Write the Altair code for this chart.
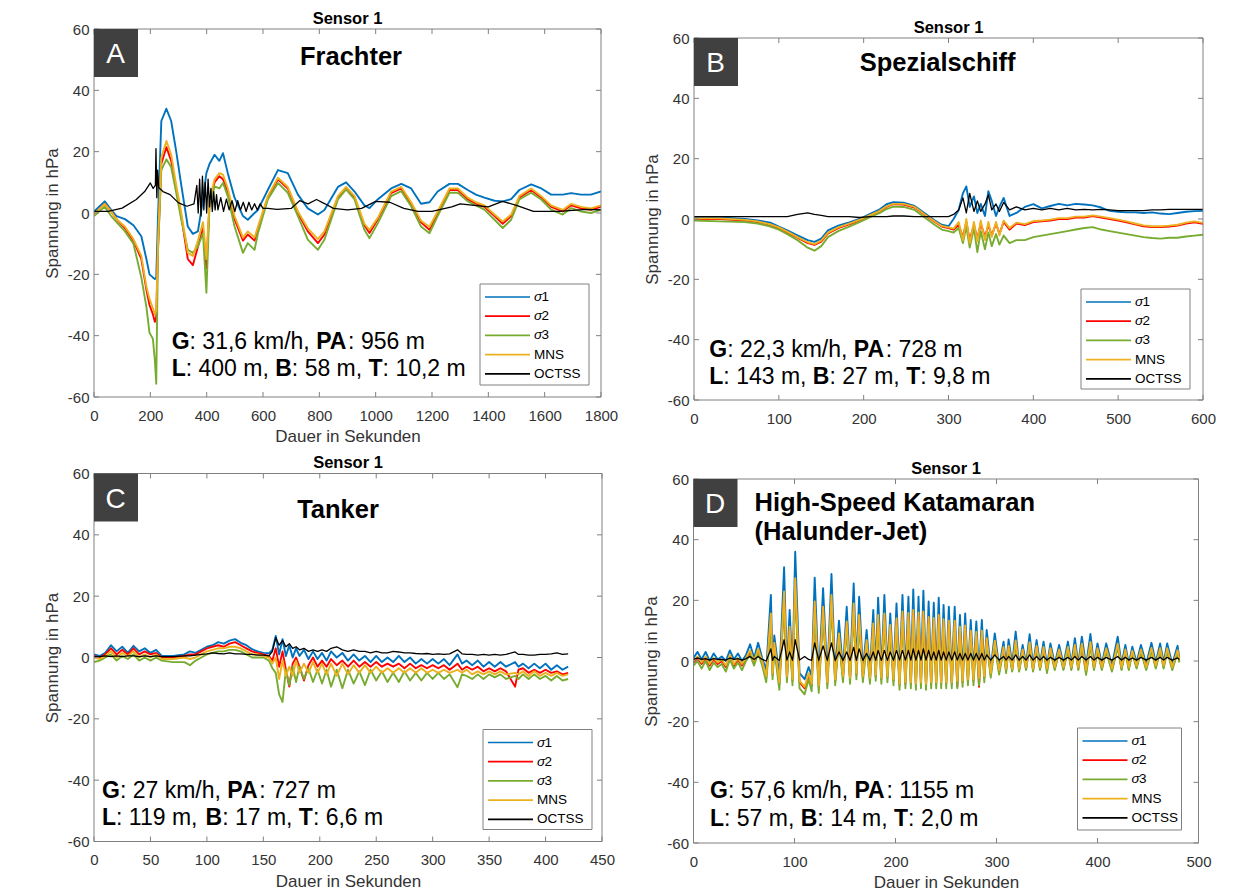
import altair as alt
import pandas as pd

FONT = "Liberation Sans"
FRAME = "#808080"
TXT = "#333333"

SERIES = ["σ1", "σ2", "σ3", "MNS", "OCTSS"]
COLORS = ["#0072BD", "#FF0000", "#77AC30", "#EDB120", "#000000"]
Y_TICKS = [-60, -40, -20, 0, 20, 40, 60]

# ---------------- Panel A (Frachter) ----------------
A_X_TICKS = [0, 200, 400, 600, 800, 1000, 1200, 1400, 1600, 1800]
A_T = [0, 38, 61, 80, 110, 140, 168, 186, 197, 209,
       216, 221, 227, 239, 257, 274, 292, 310, 333, 351,
       369, 387, 399, 410, 428, 445, 458, 475, 499, 529,
       546, 570, 582, 617, 653, 688, 724, 759, 795, 818,
       866, 895, 925, 960, 978, 1008, 1055, 1091, 1126, 1161,
       1191, 1220, 1262, 1292, 1327, 1356, 1386, 1422, 1451, 1481,
       1510, 1552, 1588, 1623, 1664, 1694, 1729, 1764, 1800]
A_S1 = [0.5, 3.8, 1, -1, -2, -4, -7.6, -15, -20, -21,
        -21.5, -21.3, -2, 30, 34, 30, 20, 9, -4.4, -6.8,
        -6, 4.4, 13, 16, 19, 17, 19.5, 13, 5, -1,
        -2.2, 0, 1, 7.5, 14, 13, 6, 1.5, -0.5, 1,
        8.5, 10, 7, 2.5, 1.6, 4.5, 8, 9.5, 8, 3,
        3.5, 7, 9.5, 9.5, 7.5, 6, 5, 4, 3.8, 4.5,
        7.5, 9.3, 8, 6, 6, 6.5, 6, 6, 7]
A_S2 = [-0.5, 3, 0.5, -2, -5, -9, -15, -25, -30, -33,
        -35.5, -34, -12, 16, 21.5, 17, 8, -1, -15, -17,
        -11, -5, -18, 3, 10, 12, 11, 7, -2, -9,
        -7, -9, -5, 5, 11, 8, 0, -6, -9.8, -7,
        5, 8, 5, -4, -6.5, -2, 6.5, 8, 3, -3,
        -5.5, 0, 7.5, 7.5, 4.5, 3, 2, -1, -3.5, -1,
        5, 7.5, 5, 2, 0.5, 2.5, 1.5, 1, 2]
A_S3 = [-1, 2, -1, -3, -6, -10, -21, -30.6, -39, -41,
        -48, -55.7, -13, 14, 17.5, 15, 6.6, -2.2, -12, -13,
        -10.9, -6.6, -26, 2, 8.7, 8, 9.8, 5.5, -4.4, -13,
        -9.8, -12, -6.6, 4.4, 9.8, 6.6, -1, -8.7, -12, -8.7,
        4.4, 7.7, 4.4, -5.5, -8.2, -3.3, 5.5, 7.1, 2.2, -4.4,
        -6.6, -1, 6.6, 6.6, 3.8, 2.5, 1.1, -2.2, -4.9, -2.2,
        4.4, 6.6, 4.4, 1.1, -0.5, 1.6, 0.5, 0, 1.1]
A_MNS = [-0.5, 3, 0.5, -2, -4.5, -8.5, -14, -24, -28, -31,
         -33, -32, -10, 18, 23.5, 19, 9, 0, -13, -14,
         -9, -3, -15, 4, 11, 13, 12.5, 8, -1, -8,
         -6, -8, -4.5, 5.5, 11.5, 8.5, 0.5, -5, -8.5, -6,
         5.5, 8.5, 5.5, -3.5, -5.5, -1.5, 7, 8.5, 3.5, -2.5,
         -4.5, 0.5, 8, 8, 5, 3.5, 2.5, -0.5, -2.8, -0.5,
         5.5, 8, 5.5, 2.5, 1, 3, 2, 1.5, 2.5]
A_OCT_T = [0, 50, 100, 150, 180, 200, 210, 218, 220, 223,
           226, 230, 245, 270, 300, 330, 355, 365, 370, 375,
           380, 385, 390, 395, 400, 405, 410, 415, 420, 425,
           430, 435, 440, 450, 460, 470, 480, 490, 500, 510,
           520, 530, 540, 550, 560, 570, 580, 590, 600, 617,
           650, 700, 730, 760, 790, 820, 850, 900, 950, 1000,
           1050, 1100, 1150, 1200, 1270, 1300, 1350, 1400, 1450, 1500,
           1560, 1650, 1750, 1800]
A_OCT = [0.5, 0.5, 1.6, 4.4, 7, 9.8, 8, 9, 21, 5,
         14, 8.2, 7, 6, 3.3, 2.2, 3, 9, 0, 11,
         -1, 12, 1, 10, 0, 11, 2, 8, 0.5, 7,
         1, 6, 1, 5, 0.5, 4.5, 1, 4, 0.5, 4,
         1, 3.5, 0.5, 3.5, 1, 3, 1, 3, 1.5, 1.5,
         1.2, 1.5, 4, 3, 4.4, 3, 1.5, 1, 1.5, 3.8,
         3.5, 1.5, 0.5, 0.5, 2, 3, 2.5, 2, 3.8, 2.5,
         0.5, 0.5, 1.2, 1]

# ---------------- Panel B (Spezialschiff) ----------------
B_X_TICKS = [0, 100, 200, 300, 400, 500, 600]
B_T = [0, 30, 60, 75, 90, 100, 110, 122, 134, 142,
       150, 158, 170, 183, 195, 207, 219, 227, 235, 247,
       260, 272, 284, 292, 300, 306, 312, 317, 321, 325,
       330, 334, 338, 343, 347, 351, 356, 360, 365, 372,
       380, 390, 400, 410, 420, 430, 440, 450, 460, 470,
       480, 490, 500, 510, 520, 530, 540, 550, 560, 570,
       580, 590, 600]
B_S1 = [0.5, 0.5, 0, -0.5, -1.2, -2.5, -3.8, -5.4, -7, -7.6,
        -6.5, -3.8, -2.2, -1.1, 0, 1.6, 3.2, 4.9, 5.6, 5.4,
        4.3, 1.9, -0.5, -1.9, -2.4, 0, 3, 8.5, 10.8, 4,
        7.5, 2, 5, 1, 9.2, 6, 1, 4, 7, 1,
        2, 4, 4.9, 3.5, 4.3, 5, 4.5, 5, 4.8, 4.5,
        3.8, 2.7, 2.4, 2.2, 2.2, 2, 2.2, 1.8, 1.6, 2,
        2.4, 2.6, 2.7]
B_S2 = [0, 0, -0.5, -1, -2, -3, -4.5, -6.2, -8, -8.6,
        -7.5, -4.8, -3, -1.8, -0.5, 1, 2.5, 4, 4.9, 4.8,
        3.8, 1.3, -1, -2.5, -3, -3.5, -2, -6, -1, -7,
        -2, -6.5, -1.5, -6, -2, -5.5, -1.5, -5, -1, -3.5,
        -1.5, -2, -1, -0.8, -0.5, 0, 0, 0.5, 0.5, 1,
        0.5, 0, -0.5, -1.1, -1.8, -2.4, -2.7, -2.7, -2.5, -2.2,
        -1.5, -1.1, -1.6]
B_S3 = [-0.5, -0.8, -1, -1.5, -2.5, -3.5, -5, -7, -9.5, -10.5,
        -9, -6, -4, -2.5, -1, 0.5, 2, 3.3, 4.1, 4,
        3, 0.5, -2, -3.5, -4, -4.5, -3, -8, -2.5, -9.5,
        -3, -11, -4, -10, -4.5, -9, -5, -8.5, -5.5, -8,
        -7, -7, -6, -5.5, -5, -4.5, -4, -3.5, -3, -2.7,
        -3.5, -4, -4.5, -5, -5.5, -6, -6.3, -6.5, -6.2, -6.2,
        -5.8, -5.5, -5.2]
B_MNS = [0.2, 0.2, -0.3, -0.8, -1.8, -2.8, -4.2, -6, -7.7, -8.3,
         -7.2, -4.5, -2.8, -1.5, -0.3, 1.2, 2.7, 4.2, 5, 5,
         4, 1.5, -0.8, -2.3, -2.8, -3.2, -1, -7, 0, -8,
         -1, -7.5, -0.5, -7, -1, -6, -1, -5.5, -0.5, -3,
         -1.2, -1.7, -0.7, -0.5, -0.2, 0.3, 0.3, 0.8, 0.8, 1.2,
         0.8, 0.3, -0.2, -0.8, -1.5, -2.1, -2.4, -2.4, -2.2, -1.9,
         -1.2, -0.8, -1.3]
B_OCT = [0.8, 0.8, 0.8, 0.8, 0.8, 0.8, 0.8, 1.5, 2, 1.5,
         1.2, 0.8, 0.8, 0.8, 0.5, 0.8, 0.8, 0.8, 1, 1,
         0.8, 0.8, 0.8, 0.8, 0.8, 1.5, 3, 7, 2, 8.5,
         2.5, 6, 2.5, 5, 8, 3, 5, 2.5, 5.5, 3,
         4, 3, 3.5, 3, 3.5, 3, 3.5, 3, 3.2, 3,
         3.2, 3, 2.8, 2.8, 2.8, 2.8, 3, 3, 3.2, 3.2,
         3.2, 3.2, 3.2]

# ---------------- Panel C (Tanker) ----------------
C_X_TICKS = [0, 50, 100, 150, 200, 250, 300, 350, 400, 450]
C_T = [0, 5, 10, 15, 20, 25, 30, 35, 40, 45,
       50, 55, 60, 70, 80, 85, 90, 95, 100, 105,
       110, 115, 120, 125, 130, 135, 140, 145, 150, 155,
       158, 161, 164, 167, 170, 173, 176, 179, 182, 186,
       190, 194, 198, 202, 206, 210, 215, 220, 225, 230,
       235, 240, 245, 250, 255, 260, 265, 270, 275, 280,
       285, 290, 295, 300, 305, 310, 315, 322, 326, 330,
       335, 340, 345, 350, 355, 360, 365, 373, 376, 380,
       385, 390, 395, 400, 405, 410, 415, 420]
C_S1 = [1, 0.5, 1.5, 4, 2, 3.5, 1.5, 3.8, 2, 3,
        1.5, 2.5, 0.5, 0.5, 1, 2, 1.5, 2.5, 3.5, 4,
        5, 4.5, 5.5, 6, 4.8, 4, 2.7, 2, 1.5, 1.4,
        2.5, 7, 1, 6, 0.5, 4, 0, 3, 0.5, 2.5,
        -0.5, 2, -0.5, 1.5, -1, 2, 0, 1.5, -1, 1,
        -1, 0.5, -1.5, 0.5, -1.5, 0, -1.5, 0.5, -1.5, 0,
        -2, -0.5, -2, -0.5, -2, -0.5, -2.5, 1, -2, -1,
        -2.5, -1, -3, -1.5, -3, -1.5, -3, -1.5, -3, -2,
        -3.5, -2, -3.5, -2, -4, -2.5, -4, -3]
C_S2 = [0.5, 0, 1, 3, 1, 2.5, 1, 3, 1, 2,
        1, 1.5, 0, 0, 0.5, 1, 1, 2, 3, 3.5,
        4, 3.5, 4.5, 5, 4, 3, 2, 1.5, 1, 0.5,
        -1, 3, -3, 2, -4, -9.5, -2, 0, -3, -7.5,
        -2.5, 0, -3, -1, -3, -0.5, -2.5, -1, -3, -1,
        -3, -1.5, -3, -1.5, -3, -2, -3, -2, -3.5, -2,
        -3.5, -2.5, -3.5, -2.5, -3.5, -2.5, -4, -2, -4, -3,
        -4, -3, -4.5, -3.5, -4.5, -3.5, -4.5, -9.5, -4, -3.5,
        -5, -4, -5, -4, -5, -4.5, -5.5, -5]
C_S3 = [-1.5, -1, 0, 1, -1, 0.5, -0.5, 1, -1, 0,
        -1, 0, -1, -1.5, -1.5, -2.5, -1, 0, 1, 1.5,
        2, 2, 2.5, 2.5, 2, 1, 0, 0, 0, -1,
        -3.5, -5, -12, -14.5, -4, -9, -3, -8, -3, -7,
        -3.5, -8, -4, -8.5, -4, -9.5, -4, -10, -4, -8.5,
        -4.5, -9, -4, -7.5, -4.5, -8, -5, -8, -4.5, -7.5,
        -5, -7.5, -5, -7, -5, -7, -5.5, -9.7, -5.5, -6,
        -7, -5.5, -7, -5.5, -6.5, -5.5, -7, -6, -7, -5.5,
        -7, -5.5, -7, -6, -7.5, -6, -7.5, -7]
C_MNS = [0, -0.5, 0.5, 2, 0, 1.5, 0.5, 2, 0, 1,
         0, 1, -0.5, -0.5, 0, -0.5, 0, 1, 2, 2.5,
         3, 3, 3.5, 3.5, 3, 2, 1, 1, 0.5, 0,
         -2, 0, -7, -1, -6, -3, -6, -1, -5, -2,
         -5, -1.5, -5, -2, -5.5, -2, -6, -2, -5.5, -2.5,
         -5, -2.5, -5, -3, -5, -3.5, -5, -3.5, -5, -3.5,
         -5, -3.5, -5, -4, -5, -4, -5, -4, -5, -4,
         -5.5, -4.5, -5.5, -4.5, -5.5, -4.5, -5.5, -5, -5.5, -4.5,
         -6, -4.5, -6, -5, -6, -5, -6, -5.5]
C_OCT = [0.3, 0.3, 0.5, 0.3, 0.5, 0.3, 0.5, 0.5, 0.3, 0.5,
         0.3, 0.5, 0.3, 0.3, 0.5, 0.5, 0.8, 1, 1.2, 1.5,
         1.3, 1.2, 1.5, 1.2, 1.2, 1, 1, 0.8, 0.8, 0.5,
         2, 6.5, 4, 5.5, 3.5, 4.5, 3, 3.5, 2.5, 3,
         2, 2.5, 2, 2.5, 2, 3, 3.5, 2.5, 2, 2.5,
         2, 2, 1.5, 2, 1.5, 1.5, 2, 1.8, 1.5, 1.5,
         1.3, 1.2, 1.3, 1, 1.2, 1, 1.2, 2.5, 1.2, 1,
         1, 0.8, 1, 0.8, 1, 0.8, 1, 1.8, 1, 1,
         0.8, 0.8, 1, 1, 1.2, 1.5, 1, 1.2]

# ---------------- Panel D (High-Speed Katamaran) ----------------
D_X_TICKS = [0, 100, 200, 300, 400, 500]
D_PRE_T = [0, 4, 8, 12, 16, 20, 24, 28, 32, 36, 40, 44, 48, 52, 56, 60, 64, 68, 72]
D_PRE_S1 = [1, 3, 0.5, 3, 0, 2.5, 0.5, 1.5, 0, 3.5, 0.5, 2.5, 0, 2, 5.5, 1, 6, 1, -3]
D_PRE_S2 = [-0.5, 1, -1, 1, -1.5, 0.5, -1, 0, -2, 1.5, -1.5, 0.5, -1.5, 0.5, 3, -0.5, 3.5, -0.5, -5.5]
D_PRE_S3 = [-1.5, 0, -2.5, 0, -3, -0.5, -2, -1, -3.5, 0.5, -2.5, -0.5, -3, 0, 2, -1.5, 2.5, -1.5, -7]
D_PRE_MNS = [0, 1.5, -0.5, 1.5, -1, 1, -0.5, 0.5, -1.5, 2, -1, 1, -1, 1, 3.5, 0, 4, 0, -5]
D_PRE_OCT = [0.5, 1, 0.5, 0.8, 0.3, 0.8, 0.5, 0.5, 0.3, 1, 0.5, 0.8, 0.3, 0.8, 1.5, 0.5, 1.5, 0.5, 0]

D_PK_T = [76.6, 80, 89.7, 95.2, 100.7, 120, 128.3, 136.6, 144, 151.7,
          158.6, 164, 171.4, 178, 182.8, 189, 194.8, 201, 206.9, 212.8,
          217.6, 222.8, 227.6, 232.8, 237.9, 242.8, 247.6, 252.8, 258.6, 263.8,
          269, 274.5, 280, 285.5, 290.3, 298.3, 307, 312, 319, 325.9,
          332.8, 339.7, 346.6, 353.4, 362, 370.7, 377.6, 384.5, 393, 400,
          408.6, 420, 427.6, 434.5, 443, 453.4, 462, 469, 479.3]
D_PK_S1 = [21.8, 8.4, 30.9, 16.8, 36, 27.5, 24, 28.7, 13.3, 17.9,
           25.6, 21.2, 10.2, 16.8, 20.9, 21.8, 15.7, 19, 21.8, 21.2,
           23.6, 21.2, 23.2, 19.6, 19.2, 20.9, 18.5, 17.9, 17.9, 15.2,
           15.7, 13.5, 13, 13.5, 10.2, 9.1, 6.4, 7.1, 9.7, 5.3,
           8.8, 6.9, 6.4, 5.8, 5.3, 6.4, 7.5, 8, 8.9, 5.8,
           5.8, 8, 5.3, 4.7, 5.3, 6, 5.8, 5.8, 5]
D_PK_S2 = [14, 5, 21, 10, 25, 18, 16.5, 20, 8, 12,
           17.5, 14, 6, 11, 14, 14.5, 11, 13, 15, 14.5,
           15.5, 14.5, 15, 13.5, 13, 14, 12.5, 12, 12, 10.5,
           10.5, 9, 8.5, 9, 7, 6, 4, 4.5, 6, 3.5,
           5.5, 4.5, 4, 3.8, 3.5, 4, 4.8, 5, 5.6, 3.8,
           3.8, 5, 3.5, 3, 3.5, 3.8, 3.8, 3.8, 3.2]
D_PK_S3 = [12, 4, 19, 8.5, 23, 16, 15, 18, 7, 10.5,
           16, 12.5, 5, 10, 12.5, 13, 9.5, 11.5, 13.5, 13,
           14, 13, 13.5, 12, 11.5, 12.5, 11, 11, 11, 9,
           9.5, 8, 7.5, 8, 6, 5, 3.5, 4, 5.5, 3,
           5, 4, 3.5, 3.2, 3, 3.5, 4.2, 4.5, 5, 3.2,
           3.2, 4.5, 3, 2.5, 3, 3.3, 3.2, 3.2, 2.8]
D_PK_MNS = [15.7, 6, 22.9, 11.3, 27.3, 19.6, 17.9, 21.8, 9.1, 13,
            19, 15.2, 6.9, 12.4, 15.2, 15.7, 11.9, 14.1, 16.3, 15.8,
            16.8, 16, 16.3, 14.5, 14.2, 15.2, 13.8, 13.3, 13.3, 11.3,
            11.7, 10, 9.6, 10, 7.5, 6.7, 4.6, 5, 6.8, 3.8,
            6.2, 5, 4.6, 4.2, 3.8, 4.6, 5.3, 5.7, 6.3, 4.2,
            4.2, 5.7, 3.8, 3.4, 3.8, 4.3, 4.2, 4.2, 3.6]
D_PK_OCT = [4, 1.5, 7, 3, 7, 6, 5, 6, 3, 3,
            4.5, 4, 2.5, 3, 3.5, 3.5, 3, 3.5, 3.5, 3.5,
            4, 3.5, 4, 3.5, 3, 3.5, 3, 3, 3, 2.5,
            2.5, 2.5, 2.5, 2.5, 2, 2, 1.5, 1.5, 2, 1.5,
            2, 1.5, 1.5, 1.2, 1.2, 1.2, 1.5, 1.5, 1.5, 1.2,
            1.2, 1.5, 1.2, 1, 1.2, 1.2, 1.2, 1.2, 1]

D_TR_T = [78.3, 85, 92.5, 98, 105, 110, 114, 117, 124, 132.5,
          140.3, 148, 155, 161.3, 167.7, 174.7, 180.4, 186, 192, 198,
          204, 209.8, 215.2, 220.2, 225.2, 230.2, 235.3, 240.3, 245.2, 250.2,
          255.7, 261.2, 266.4, 271.7, 277.2, 282.7, 287.9, 294.3, 302.6, 309.5,
          315.5, 322.4, 329.3, 336.2, 343.1, 350, 357.7, 366.3, 374.1, 381,
          388.7, 396.5, 404.3, 414.3, 423.8, 431, 438.7, 448.2, 457.7, 465.5,
          474, 481]
D_TR_S1 = [-2, -5, -3, -4, -4, -6, -2, -5, -6, -5,
           -4, -3, -3.5, -2, -3, -3.5, -2.5, -3.5, -3, -4,
           -5, -4.5, -4.5, -5, -4.5, -5, -4.5, -4.5, -4.5, -4.5,
           -4.5, -4.5, -4, -4, -3.5, -3.5, -3, -2.5, -2, -1.5,
           -1, -1.5, -1, -1.5, -1, -1.5, -1, -1, -1, -1,
           -1.5, -1, -1, -1.5, -1, -1, -0.5, -1, -0.5, -0.5,
           -1, 1]
D_TR_S2 = [-4.5, -7.5, -5.5, -6.5, -7, -9, -4.5, -8, -8.5, -7.5,
           -6.5, -5.5, -6, -4.5, -5.5, -6, -5, -6, -5.5, -6.5,
           -8, -7.5, -7.5, -8, -7.5, -8, -7.5, -7.5, -7.5, -7.5,
           -7.5, -8.5, -7, -6.5, -6.5, -8.5, -5.5, -4.5, -3.5, -3,
           -3, -3, -2.5, -3, -2.5, -3, -2.5, -2.5, -2.5, -2.5,
           -3.5, -2.5, -2.5, -3, -2.5, -2.5, -2, -2.5, -2, -2,
           -2.5, 0]
D_TR_S3 = [-6, -9.5, -7, -8, -9, -11, -6, -10, -10.5, -9,
           -8, -7, -7.5, -6, -7, -7.5, -6.5, -7.5, -7, -8,
           -9.5, -9, -9, -9.5, -9, -9.5, -9, -9, -9, -9,
           -9, -9, -8.5, -8, -8, -8, -7, -5.5, -4.5, -4,
           -3.5, -3.5, -3, -3.5, -3, -4, -3, -3, -3, -3,
           -4.6, -3, -3, -3.5, -3, -3, -2.5, -3, -2.5, -2.5,
           -3, -0.5]
D_TR_MNS = [-4, -7, -5, -6, -6.5, -8.5, -4, -7.5, -8, -7,
            -6, -5, -5.5, -4, -5, -5.5, -4.5, -5.5, -5, -6,
            -7.5, -7, -7, -7.5, -7, -7.5, -7, -7, -7, -7,
            -7, -6.5, -6.5, -6, -6, -5.5, -5, -4, -3, -2.5,
            -2.5, -2.5, -2, -2.5, -2, -2.5, -2, -2, -2, -2,
            -3, -2, -2, -2.5, -2, -2, -1.5, -2, -1.5, -1.5,
            -2, 0.5]
D_TR_OCT = [0.2, 0.2, 0.3, 0.2, 0.3, 1.5, 0.5, 0.2, 0.2, 0.2,
            0.2, 0.2, 0.2, 0.2, 0.2, 0.2, 0.2, 0.2, 0.2, 0.2,
            0.3, 0.3, 0.3, 0.3, 0.3, 0.3, 0.3, 0.3, 0.3, 0.3,
            0.3, 0.3, 0.3, 0.3, 0.3, 0.3, 0.3, 0.3, 0.3, 0.3,
            0.3, 0.3, 0.3, 0.3, 0.3, 0.3, 0.3, 0.3, 0.3, 0.3,
            0.3, 0.3, 0.3, 0.3, 0.3, 0.3, 0.3, 0.3, 0.3, 0.3,
            0.3, 0.5]

# ---------------- Text content ----------------
A_INFO = [[("G", 1), (": 31,6 km/h, ", 0), ("PA", 1), (": 956 m", 0)],
          [("L", 1), (": 400 m, ", 0), ("B", 1), (": 58 m, ", 0), ("T", 1), (": 10,2 m", 0)]]
B_INFO = [[("G", 1), (": 22,3 km/h, ", 0), ("PA", 1), (": 728 m", 0)],
          [("L", 1), (": 143 m, ", 0), ("B", 1), (": 27 m, ", 0), ("T", 1), (": 9,8 m", 0)]]
C_INFO = [[("G", 1), (": 27 km/h, ", 0), ("PA", 1), (": 727 m", 0)],
          [("L", 1), (": 119 m, ", 0), ("B", 1), (": 17 m, ", 0), ("T", 1), (": 6,6 m", 0)]]
D_INFO = [[("G", 1), (": 57,6 km/h, ", 0), ("PA", 1), (": 1155 m", 0)],
          [("L", 1), (": 57 m, ", 0), ("B", 1), (": 14 m, ", 0), ("T", 1), (": 2,0 m", 0)]]

REG_W = {' ': 278, ':': 278, ',': 278, '.': 278, '/': 278, 'k': 500, 'm': 833, 'h': 556}
BOLD_W = {'G': 778, 'P': 667, 'A': 722, 'L': 611, 'B': 722, 'T': 611}


def text_w(s, bold, size):
    table = BOLD_W if bold else REG_W
    return sum(table.get(c, 556) for c in s) * size / 1000.0


def merge(*pairs):
    ts, vs = [], []
    for t, v in pairs:
        ts += list(t)
        vs += list(v)
    order = sorted(range(len(ts)), key=lambda i: ts[i])
    return [ts[i] for i in order], [vs[i] for i in order]


ONE = pd.DataFrame({"k": [0]})


def build_panel(p):
    W, H = p["W"], p["H"]
    xax = dict(values=p["xticks"], grid=False, ticks=False, tickSize=0, domain=False,
               labelFont=FONT, labelFontSize=15, labelColor=TXT, labelPadding=11,
               labelFlush=False, labelOverlap=False, labelExpr="toString(datum.value)",
               titleFont=FONT, titleFontSize=17, titleFontWeight="normal",
               titleColor=TXT, titlePadding=5.5)
    xax["title"] = "Dauer in Sekunden" if p["xtitle"] else ""
    X = alt.X("t:Q", scale=alt.Scale(domain=[0, p["xmax"]], nice=False, zero=False),
              axis=alt.Axis(**xax))
    Y = alt.Y("v:Q", scale=alt.Scale(domain=[-60, 60], nice=False),
              axis=alt.Axis(values=Y_TICKS, title="Spannung in hPa", grid=False, ticks=False,
                            tickSize=0, domain=False, labelFont=FONT, labelFontSize=15,
                            labelColor=TXT, labelPadding=5, labelExpr="toString(datum.value)",
                            titleFont=FONT, titleFontSize=17, titleFontWeight="normal",
                            titleColor=TXT, titlePadding=p["ytpad"]))
    C = alt.Color("series:N", scale=alt.Scale(domain=SERIES, range=COLORS), legend=None)
    layers = []
    for name, (ts, vs) in zip(SERIES, p["series"]):
        df = pd.DataFrame({"t": ts, "v": vs, "series": name})
        sw = 1.3 if name == "OCTSS" else 1.9
        layers.append(alt.Chart(df).mark_line(strokeWidth=sw, strokeJoin="round", clip=True)
                      .encode(x=X, y=Y, color=C))
    # inward ticks (MATLAB style)
    xt = pd.DataFrame({"t": p["xticks"]})
    yt = pd.DataFrame({"v": Y_TICKS})
    layers.append(alt.Chart(xt).mark_rule(color=FRAME, strokeWidth=1)
                  .encode(x=X, y=alt.value(H), y2=alt.value(H - 5)))
    layers.append(alt.Chart(xt).mark_rule(color=FRAME, strokeWidth=1)
                  .encode(x=X, y=alt.value(0), y2=alt.value(5)))
    layers.append(alt.Chart(yt).mark_rule(color=FRAME, strokeWidth=1)
                  .encode(y=Y, x=alt.value(0), x2=alt.value(5)))
    layers.append(alt.Chart(yt).mark_rule(color=FRAME, strokeWidth=1)
                  .encode(y=Y, x=alt.value(W - 5), x2=alt.value(W)))
    # frame
    layers.append(alt.Chart(ONE).mark_rect(fillOpacity=0, stroke=FRAME, strokeWidth=1)
                  .encode(x=alt.value(0), x2=alt.value(W), y=alt.value(0), y2=alt.value(H)))
    # letter box
    layers.append(alt.Chart(ONE).mark_rect(color="#404040")
                  .encode(x=alt.value(0), x2=alt.value(44), y=alt.value(0), y2=alt.value(48)))
    layers.append(alt.Chart(ONE).mark_text(text=p["letter"], font=FONT, fontSize=28, color="white",
                                           align="center", baseline="alphabetic")
                  .encode(x=alt.value(21.5), y=alt.value(34)))
    # ship title
    for (txt, tx, ty, al) in p["titles"]:
        layers.append(alt.Chart(ONE).mark_text(text=txt, font=FONT, fontSize=25.5, fontWeight="bold",
                                               color="black", align=al, baseline="alphabetic")
                      .encode(x=alt.value(tx), y=alt.value(ty)))
    # info text (mixed bold / normal)
    for line, yb in zip(p["info"], p["info_y"]):
        x0 = p["info_x"]
        for seg, bold in line:
            layers.append(alt.Chart(ONE).mark_text(text=seg, font=FONT, fontSize=23,
                                                   fontWeight="bold" if bold else "normal",
                                                   color="black", align="left", baseline="alphabetic")
                          .encode(x=alt.value(x0), y=alt.value(yb)))
            x0 += text_w(seg, bold, 23)
    # legend box
    lx, ly, lw, lh = p["legend"]
    layers.append(alt.Chart(ONE).mark_rect(fill="white", stroke=FRAME, strokeWidth=1)
                  .encode(x=alt.value(lx), x2=alt.value(lx + lw), y=alt.value(ly), y2=alt.value(ly + lh)))
    for i, (name, col) in enumerate(zip(SERIES, COLORS)):
        ry = ly + 13 + 19.2 * i
        layers.append(alt.Chart(ONE).mark_rule(color=col, strokeWidth=1.7)
                      .encode(x=alt.value(lx + 5), x2=alt.value(lx + 50), y=alt.value(ry)))
        if name.startswith("σ"):
            layers.append(alt.Chart(ONE).mark_text(text="σ", font=FONT, fontSize=13.5, fontStyle="italic",
                                                   color="black", align="left", baseline="middle")
                          .encode(x=alt.value(lx + 54), y=alt.value(ry)))
            layers.append(alt.Chart(ONE).mark_text(text=name[1:], font=FONT, fontSize=13.5,
                                                   color="black", align="left", baseline="middle")
                          .encode(x=alt.value(lx + 61.5), y=alt.value(ry)))
        else:
            layers.append(alt.Chart(ONE).mark_text(text=name, font=FONT, fontSize=13.5,
                                                   color="black", align="left", baseline="middle")
                          .encode(x=alt.value(lx + 54), y=alt.value(ry)))
    return alt.layer(*layers).properties(
        width=W, height=H,
        title=alt.TitleParams("Sensor 1", font=FONT, fontSize=16.5, fontWeight="bold", color="black",
                              offset=-5, anchor="middle", frame="group"))


def spacer():
    return alt.Chart(ONE).mark_rule(opacity=0).encode(
        x=alt.value(0), x2=alt.value(1), y=alt.value(0)).properties(width=1, height=1)


D_S1 = merge((D_PRE_T, D_PRE_S1), (D_PK_T, D_PK_S1), (D_TR_T, D_TR_S1))
D_S2 = merge((D_PRE_T, D_PRE_S2), (D_PK_T, D_PK_S2), (D_TR_T, D_TR_S2))
D_S3 = merge((D_PRE_T, D_PRE_S3), (D_PK_T, D_PK_S3), (D_TR_T, D_TR_S3))
D_MNS = merge((D_PRE_T, D_PRE_MNS), (D_PK_T, D_PK_MNS), (D_TR_T, D_TR_MNS))
D_OCT = merge((D_PRE_T, D_PRE_OCT), (D_PK_T, D_PK_OCT), (D_TR_T, D_TR_OCT))

panelA = build_panel(dict(
    W=507, H=368, xmax=1800, xticks=A_X_TICKS, xtitle=True, ytpad=6, letter="A",
    series=[(A_T, A_S1), (A_T, A_S2), (A_T, A_S3), (A_T, A_MNS), (A_OCT_T, A_OCT)],
    titles=[("Frachter", 257, 35.5, "center")],
    info=A_INFO, info_x=77.7, info_y=[320.4, 347],
    legend=(386, 255, 109, 101)))
panelB = build_panel(dict(
    W=509, H=362, xmax=600, xticks=B_X_TICKS, xtitle=False, ytpad=6, letter="B",
    series=[(B_T, B_S1), (B_T, B_S2), (B_T, B_S3), (B_T, B_MNS), (B_T, B_OCT)],
    titles=[("Spezialschiff", 243.6, 33, "center")],
    info=B_INFO, info_x=15.3, info_y=[319.2, 345.9],
    legend=(387, 251, 109, 100)))
panelC = build_panel(dict(
    W=508, H=368, xmax=450, xticks=C_X_TICKS, xtitle=True, ytpad=6, letter="C",
    series=[(C_T, C_S1), (C_T, C_S2), (C_T, C_S3), (C_T, C_MNS), (C_T, C_OCT)],
    titles=[("Tanker", 244, 44.3, "center")],
    info=C_INFO, info_x=8, info_y=[324.9, 351.5],
    legend=(389, 256, 109, 100)))
panelD = build_panel(dict(
    W=505, H=364, xmax=500, xticks=D_X_TICKS, xtitle=True, ytpad=6, letter="D",
    series=[D_S1, D_S2, D_S3, D_MNS, D_OCT],
    titles=[("High-Speed Katamaran", 61, 32.3, "left"), ("(Halunder-Jet)", 61, 61.3, "left")],
    info=D_INFO, info_x=16.5, info_y=[319.2, 347.2],
    legend=(384, 249, 104, 102)))

RES = dict(x="independent", y="independent", color="independent")
colB = alt.vconcat(spacer(), panelB, spacing=-11).resolve_scale(**RES)
colD = alt.vconcat(spacer(), panelD, spacing=-14.5).resolve_scale(**RES)
row1 = alt.hconcat(panelA, colB, spacing=25).resolve_scale(**RES)
row2 = alt.hconcat(panelC, colD, spacing=27.5).resolve_scale(**RES)

chart = (alt.vconcat(row1, row2, spacing=9.5)
         .resolve_scale(**RES)
         .properties(padding={"left": 43, "top": 10, "right": 5, "bottom": 2}, background="white")
         .configure_view(strokeWidth=0))

chart.save("out.html", embed_options={"renderer": "svg", "actions": False})
